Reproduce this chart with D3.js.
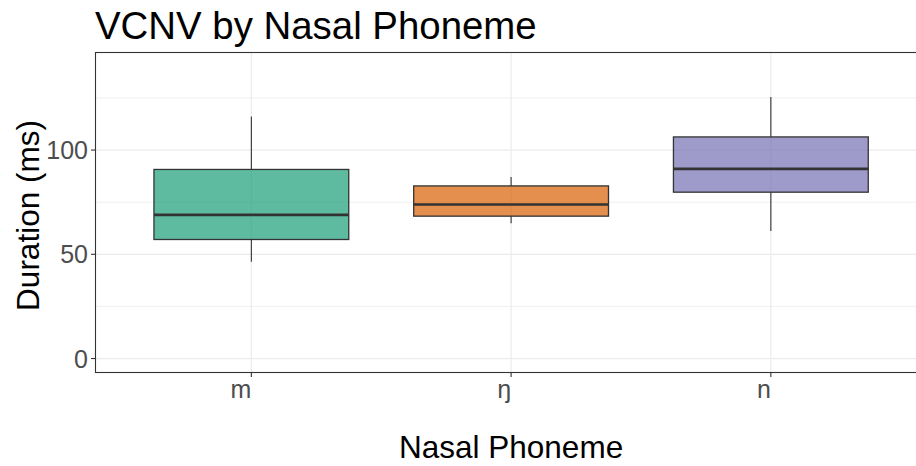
<!DOCTYPE html>
<html>
<head>
<meta charset="utf-8">
<script src="https://cdn.jsdelivr.net/npm/d3@7"></script>
<style>
  html, body { margin: 0; padding: 0; background: #fff; }
  svg { display: block; font-family: "Liberation Sans", Arial, sans-serif; }
</style>
</head>
<body>
<svg id="chart" width="916" height="466"></svg>
<script>
// Box summaries per nasal phoneme (ms)
const phonemes   = ["m", "ŋ", "n"];
const whiskerLow = [46.4, 64.9, 61.2];
const quart1     = [57.1, 68.3, 79.8];
const medians    = [68.9, 73.9, 91.0];
const quart3     = [90.7, 82.8, 106.3];
const whiskerHigh= [116.1, 87.1, 125.4];
const fills      = ["#1b9e77", "#d95f02", "#7570b3"];
const yTicks     = [0, 50, 100];
const yMinor     = [25, 75, 125];

const boxes = phonemes.map((p, i) => ({
  p, lo: whiskerLow[i], q1: quart1[i], med: medians[i], q3: quart3[i], hi: whiskerHigh[i], fill: fills[i]
}));

const svg = d3.select("#chart");
const pLeft = 95.5, pTop = 52.5, pBottom = 372.5;
// panel runs past the right edge of the canvas
const pRight = 926.7;

const x = d3.scalePoint().domain(phonemes).range([pLeft, pRight]).padding(0.6);
const boxW = x.step() * 0.75;

const y = d3.scaleLinear().domain([-6.7, 146.8]).range([pBottom, pTop]);

const g = svg.append("g");

// grid
g.selectAll("line.minor").data(yMinor).join("line")
  .attr("x1", pLeft).attr("x2", pRight)
  .attr("y1", d => y(d)).attr("y2", d => y(d))
  .attr("stroke", "#ebebeb").attr("stroke-width", 0.8);
g.selectAll("line.major").data(yTicks).join("line")
  .attr("x1", pLeft).attr("x2", pRight)
  .attr("y1", d => y(d)).attr("y2", d => y(d))
  .attr("stroke", "#ebebeb").attr("stroke-width", 1.2);
g.selectAll("line.vmajor").data(phonemes).join("line")
  .attr("x1", d => x(d)).attr("x2", d => x(d))
  .attr("y1", pTop).attr("y2", pBottom)
  .attr("stroke", "#ebebeb").attr("stroke-width", 1.2);

// boxes
const bg = g.selectAll("g.box").data(boxes).join("g");
bg.append("line")
  .attr("x1", d => x(d.p)).attr("x2", d => x(d.p))
  .attr("y1", d => y(d.hi)).attr("y2", d => y(d.q3))
  .attr("stroke", "#333333").attr("stroke-width", 1.1);
bg.append("line")
  .attr("x1", d => x(d.p)).attr("x2", d => x(d.p))
  .attr("y1", d => y(d.q1)).attr("y2", d => y(d.lo))
  .attr("stroke", "#333333").attr("stroke-width", 1.1);
bg.append("rect")
  .attr("x", d => x(d.p) - boxW / 2).attr("width", boxW)
  .attr("y", d => y(d.q3)).attr("height", d => y(d.q1) - y(d.q3))
  .attr("fill", d => d.fill).attr("fill-opacity", 0.7)
  .attr("stroke", "#333333").attr("stroke-width", 1.3);
bg.append("line")
  .attr("x1", d => x(d.p) - boxW / 2).attr("x2", d => x(d.p) + boxW / 2)
  .attr("y1", d => y(d.med)).attr("y2", d => y(d.med))
  .attr("stroke", "#333333").attr("stroke-width", 2.6);

// panel border
g.append("rect")
  .attr("x", pLeft).attr("y", pTop).attr("width", pRight - pLeft).attr("height", pBottom - pTop)
  .attr("fill", "none").attr("stroke", "#333333").attr("stroke-width", 1.1);

// y axis ticks and labels
g.selectAll("line.yt").data(yTicks).join("line")
  .attr("x1", pLeft - 4.5).attr("x2", pLeft)
  .attr("y1", d => y(d)).attr("y2", d => y(d))
  .attr("stroke", "#333333").attr("stroke-width", 1.1);
g.selectAll("text.yl").data(yTicks).join("text")
  .attr("x", pLeft - 7.5).attr("y", d => y(d))
  .attr("dy", "0.36em")
  .attr("text-anchor", "end")
  .attr("font-size", 25).attr("fill", "#4d4d4d")
  .text(d => d);

// x axis ticks and labels
g.selectAll("line.xt").data(phonemes).join("line")
  .attr("x1", d => x(d)).attr("x2", d => x(d))
  .attr("y1", pBottom).attr("y2", pBottom + 4.5)
  .attr("stroke", "#333333").attr("stroke-width", 1.1);
g.selectAll("text.xl").data(phonemes).join("text")
  .attr("x", d => x(d)).attr("y", 398)
  .attr("text-anchor", "end")
  .attr("font-size", 25).attr("fill", "#4d4d4d")
  .text(d => d);

// titles
svg.append("text")
  .attr("x", 95).attr("y", 39)
  .attr("font-size", 38.4).attr("fill", "#000")
  .text("VCNV by Nasal Phoneme");
svg.append("text")
  .attr("x", (pLeft + pRight) / 2).attr("y", 458)
  .attr("text-anchor", "middle")
  .attr("font-size", 31.5).attr("fill", "#000")
  .text("Nasal Phoneme");
svg.append("text")
  .attr("transform", `translate(39,${(pTop + pBottom) / 2 + 3}) rotate(-90)`)
  .attr("text-anchor", "middle")
  .attr("font-size", 31.5).attr("fill", "#000")
  .text("Duration (ms)");
</script>
</body>
</html>
